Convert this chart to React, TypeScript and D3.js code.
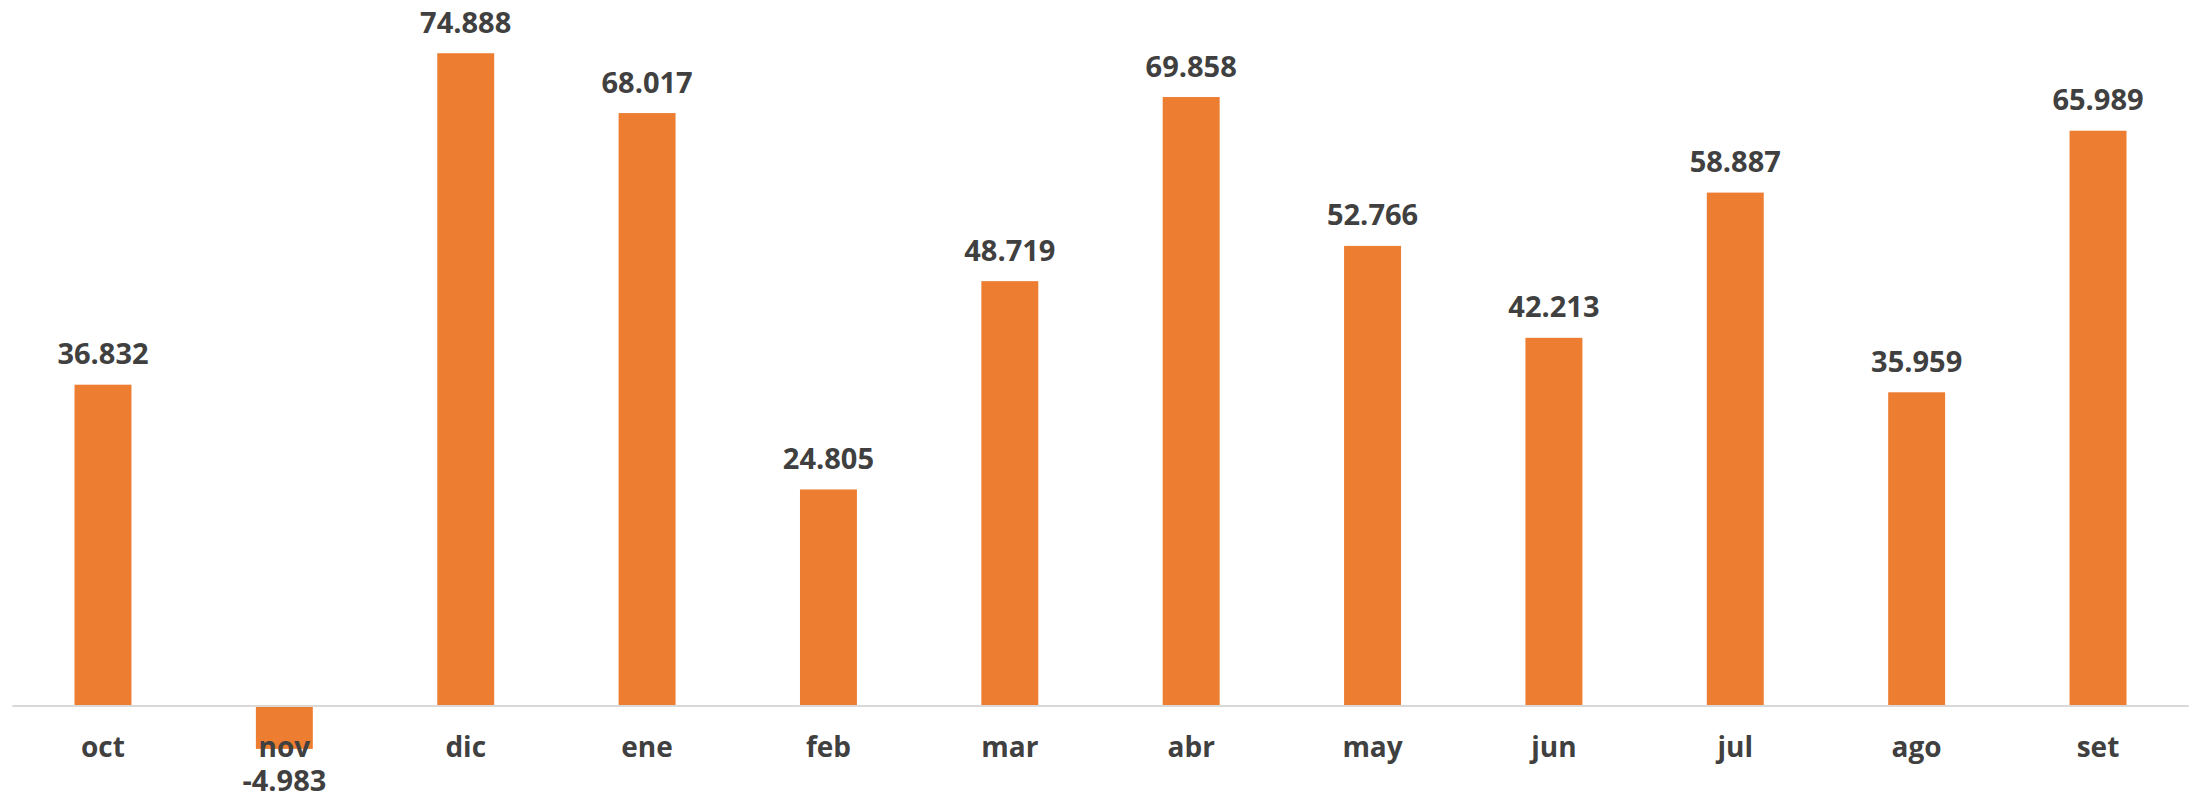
import React from "react";
import * as d3 from "d3";

const categories = ["oct", "nov", "dic", "ene", "feb", "mar", "abr", "may", "jun", "jul", "ago", "set"];
const values = [36.832, -4.983, 74.888, 68.017, 24.805, 48.719, 69.858, 52.766, 42.213, 58.887, 35.959, 65.989];
const yDomain = [-10, 80];

const W = 2195;
const H = 796;

export default function App() {
  const x = d3
    .scaleBand<string>()
    .domain(categories)
    .range([12.3, 2188.7])
    .paddingInner(0.686)
    .paddingOuter(0.343);
  const y = d3.scaleLinear().domain(yDomain).range([792.6, 8.7]);
  const fmt = (v: number) => v.toFixed(3);
  const y0 = y(0);
  const font = "'Open Sans', 'Noto Sans', sans-serif";
  const textColor = "#404040";

  return (
    <svg
      width={W}
      height={H}
      style={{ position: "absolute", left: 0, top: 0, background: "#fff" }}
    >
      {categories.map((c, i) => {
        const v = values[i];
        const top = Math.min(y(v), y0);
        const h = Math.abs(y(v) - y0);
        return (
          <rect
            key={c}
            x={x(c)}
            y={top}
            width={x.bandwidth()}
            height={h}
            fill="#ED7D31"
          />
        );
      })}
      <line x1={12.3} x2={2188.7} y1={y0 + 0.5} y2={y0 + 0.5} stroke="#d9d9d9" strokeWidth={2} />
      {categories.map((c) => (
        <text
          key={"c" + c}
          x={(x(c) as number) + x.bandwidth() / 2}
          y={756.7}
          textAnchor="middle"
          fontFamily={font}
          fontWeight={700}
          fontSize={28}
          fill={textColor}
        >
          {c}
        </text>
      ))}
      {categories.map((c, i) => {
        const v = values[i];
        const cx = (x(c) as number) + x.bandwidth() / 2;
        const ty = v >= 0 ? y(v) - 20.5 : y(v) + 42;
        return (
          <text
            key={"l" + c}
            x={cx}
            y={ty}
            textAnchor="middle"
            fontFamily={font}
            fontWeight={700}
            fontSize={29}
            fill={textColor}
          >
            {fmt(v)}
          </text>
        );
      })}
    </svg>
  );
}
